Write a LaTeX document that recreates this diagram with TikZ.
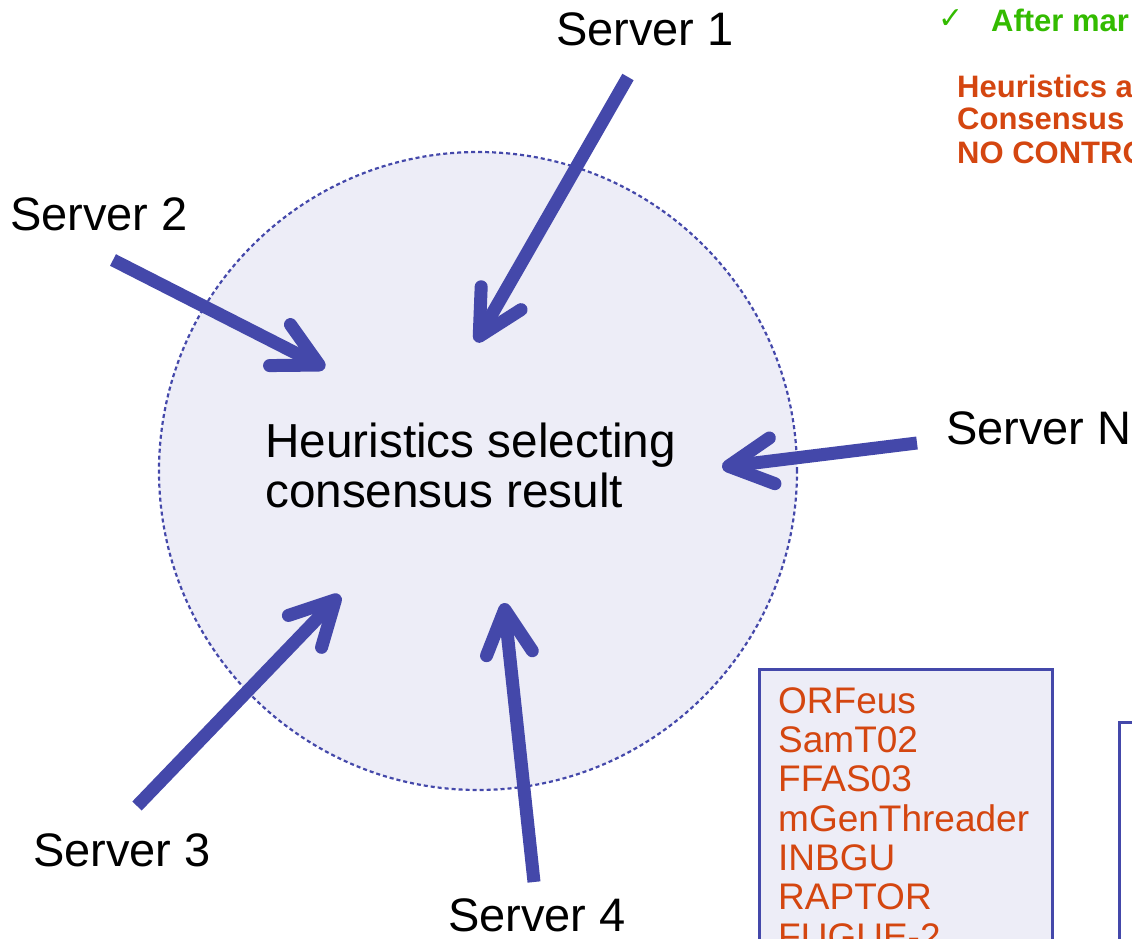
\documentclass[tikz,border=0pt]{standalone}
\usepackage{fontspec}
\setmainfont{Liberation Sans}
\newfontfamily\symfont{DejaVu Sans}
\usetikzlibrary{arrows.meta}
\definecolor{arrowblue}{RGB}{68,72,170}
\definecolor{lav}{RGB}{237,237,247}
\definecolor{orng}{RGB}{212,70,16}
\definecolor{grn}{RGB}{51,187,0}
\begin{document}
\begin{tikzpicture}[x=1pt,y=-1pt,
  srv/.style={font=\fontsize{47}{50}\selectfont, inner sep=0pt, anchor=base west},
  feed/.style={line width=13pt, draw=arrowblue, -{Straight Barb[length=44pt,width=46pt,round]}},
  hdr/.style={font=\bfseries\fontsize{31}{33}\selectfont, inner sep=0pt, anchor=base west, align=left},
  listbox/.style={draw=arrowblue, line width=3pt, inner sep=0pt, anchor=north west}
]
\useasboundingbox (0,0) rectangle (1132,939);
\clip (0,0) rectangle (1132,939);

% consensus pool
\node[circle, minimum size=638pt, fill=lav, draw=arrowblue, line width=2.2pt,
      dash pattern=on 4pt off 3pt, inner sep=0pt] (pool) at (478,471) {};
% base anchor of a multi-line node is the baseline of its last line
\node[font=\fontsize{47.7}{50}\selectfont, inner sep=0pt, anchor=base west, align=left]
  (heur) at (265,507) {Heuristics selecting\\consensus result};

% server labels
\node[srv] (s1) at (556,46) {Server 1};
\node[srv] (s2) at (10,230) {Server 2};
\node[srv] (sN) at (946,444) {Server N};
\node[srv] (s3) at (33,866) {Server 3};
\node[srv] (s4) at (448,931) {Server 4};

% arrow ends
\coordinate (a1s) at (628,77);  \coordinate (a1e) at (476,342);
\coordinate (a2s) at (113,260); \coordinate (a2e) at (325,368);
\coordinate (aNs) at (917,443); \coordinate (aNe) at (722,467);
\coordinate (a3s) at (137,806); \coordinate (a3e) at (340,595);
\coordinate (a4s) at (534,882); \coordinate (a4e) at (504,603);

\draw[feed] (a1s) -- (a1e);
\draw[feed] (a2s) -- (a2e);
\draw[feed] (aNs) -- (aNe);
\draw[feed] (a3s) -- (a3e);
\draw[feed] (a4s) -- (a4e);

% top right texts
\node[anchor=base west, inner sep=0pt, text=grn, font=\symfont\fontsize{30}{30}\selectfont] (chk) at (938,29) {✓};
\node[hdr, text=grn] (after) at (991,32) {After mar};
\node[hdr, text=orng] (note) at (957,163) {Heuristics a\\Consensus\\NO CONTRO};

% bottom boxes
\node[listbox, fill=lav, minimum width=293pt, minimum height=320pt] (list) at (758,668) {};
\node[font=\fontsize{37}{39.3}\selectfont, text=orng, inner sep=0pt, anchor=base west, align=left]
  (names) at (778,949) {ORFeus\\SamT02\\FFAS03\\mGenThreader\\INBGU\\RAPTOR\\FUGUE-2};
\node[listbox, fill=white, minimum width=100pt, minimum height=300pt] (other) at (1118,721) {};
\end{tikzpicture}
\end{document}
